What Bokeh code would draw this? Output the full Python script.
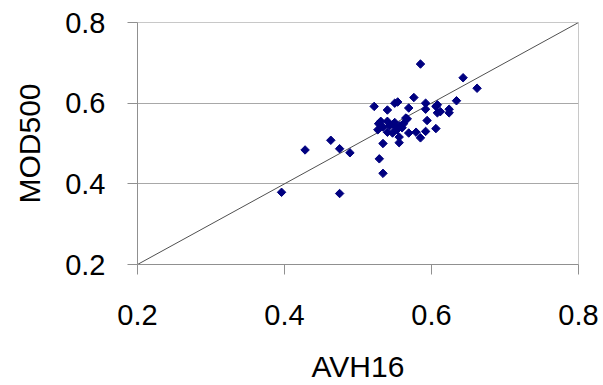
import math
from bokeh.plotting import figure
from bokeh.models import FixedTicker, Range1d, ColumnDataSource
from bokeh.embed import file_html
from bokeh.resources import INLINE

# AVH16 (x) vs MOD500 (y)
avh16 = [0.585, 0.576, 0.522, 0.540, 0.550, 0.554, 0.569, 0.592, 0.592, 0.606,
         0.608, 0.594, 0.606, 0.592, 0.585, 0.579, 0.569, 0.567, 0.565,
         0.556, 0.556, 0.534, 0.529, 0.534, 0.463, 0.428, 0.475, 0.489,
         0.396, 0.475, 0.643, 0.662, 0.634, 0.624, 0.624, 0.612, 0.608,
         0.528, 0.527, 0.540, 0.543, 0.550, 0.557, 0.562, 0.553, 0.540,
         0.547, 0.560, 0.534, 0.551, 0.531]
mod500 = [0.697, 0.614, 0.592, 0.583, 0.600, 0.603, 0.588, 0.600, 0.585, 0.592,
          0.576, 0.557, 0.537, 0.530, 0.514, 0.528, 0.526, 0.561, 0.563,
          0.516, 0.502, 0.500, 0.462, 0.426, 0.508, 0.484, 0.487, 0.477,
          0.379, 0.376, 0.663, 0.637, 0.606, 0.585, 0.576, 0.579, 0.596,
          0.549, 0.534, 0.555, 0.544, 0.552, 0.544, 0.549, 0.534, 0.528,
          0.526, 0.539, 0.541, 0.541, 0.555]

# 1:1 reference line
line_x = [0.2, 0.8]
line_y = [0.2, 0.8]

ticks = [0.2, 0.4, 0.6, 0.8]

p = figure(width=603, height=385, output_backend="svg", toolbar_location=None,
           x_range=Range1d(0.2, 0.8), y_range=Range1d(0.2, 0.8),
           min_border_left=137, min_border_right=25, min_border_top=22,
           min_border_bottom=119)

p.background_fill_color = "white"
p.border_fill_color = "white"
p.outline_line_color = "#c8c8c8"
p.outline_line_width = 1

p.xgrid.grid_line_color = None
p.ygrid.grid_line_color = "#a8a8a8"
p.ygrid.grid_line_width = 1

for ax in (p.xaxis[0], p.yaxis[0]):
    ax.ticker = FixedTicker(ticks=ticks)
    ax.axis_line_color = "#909090"
    ax.major_tick_line_color = "#909090"
    ax.major_tick_out = 10
    ax.major_tick_in = 0
    ax.minor_tick_line_color = None
    ax.major_label_text_font = "Liberation Sans"
    ax.major_label_text_font_size = "29px"
    ax.major_label_text_color = "black"
    ax.axis_label_text_font = "Liberation Sans"
    ax.axis_label_text_font_size = "30px"
    ax.axis_label_text_font_style = "normal"
    ax.axis_label_text_color = "black"

p.xaxis.axis_label = "AVH16"
p.yaxis.axis_label = "MOD500"
p.xaxis.major_label_standoff = 30
p.yaxis.major_label_standoff = 22
p.xaxis.axis_label_standoff = 22
p.yaxis.axis_label_standoff = 16

p.line(line_x, line_y, line_color="#505050", line_width=1)

src = ColumnDataSource(dict(x=avh16, y=mod500))
p.scatter("x", "y", source=src, marker="square", angle=math.pi / 4, size=6,
          fill_color="#000080", line_color="#000080")

open("out.html", "w").write(file_html(p, INLINE))
